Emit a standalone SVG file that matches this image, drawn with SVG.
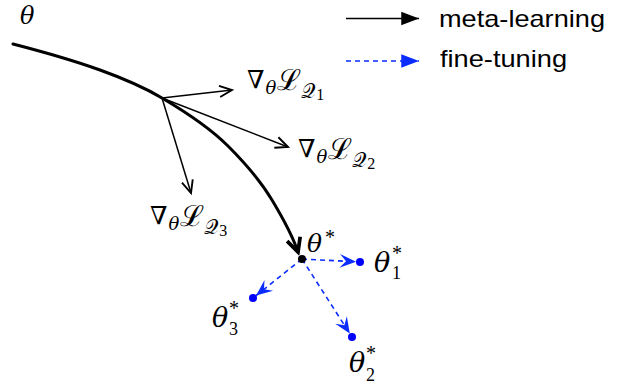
<svg xmlns="http://www.w3.org/2000/svg" width="624" height="385" viewBox="0 0 624 385">
<style>
.thick{fill:none;stroke:#000;stroke-width:3;stroke-linecap:round}
.thin{fill:none;stroke:#000;stroke-width:1.5}
.dash{fill:none;stroke:#0a2cff;stroke-width:1.6;stroke-dasharray:5,4}
.leg{font-family:"Liberation Sans",Arial,sans-serif;font-size:24px;fill:#000}
.m{font-family:"Liberation Serif","DejaVu Serif",serif;fill:#000}
.th{font-family:"DejaVu Serif",serif;font-style:italic;fill:#000}
.dot{fill:#0000ff}
</style>
<defs>
<marker id="openB" markerUnits="userSpaceOnUse" markerWidth="20" markerHeight="20" viewBox="-12 -8 14 16" refX="0" refY="0" orient="auto">
<path d="M-11,-5.5 L0,0 L-11,5.5" fill="none" stroke="#000" stroke-width="3" stroke-linejoin="miter"/>
</marker>
<marker id="openT" markerUnits="userSpaceOnUse" markerWidth="20" markerHeight="20" viewBox="-12 -8 14 16" refX="0" refY="0" orient="auto">
<path d="M-10,-4.5 L0,0 L-10,4.5" fill="none" stroke="#000" stroke-width="1.5"/>
</marker>
<marker id="stealth" markerUnits="userSpaceOnUse" markerWidth="20" markerHeight="20" viewBox="-14 -8 16 16" refX="0" refY="0" orient="auto">
<path d="M0,0 L-13,-5.5 L-8,0 L-13,5.5 Z" fill="#0a2cff"/>
</marker>
<marker id="triK" markerUnits="userSpaceOnUse" markerWidth="20" markerHeight="20" viewBox="-17 -7 18 14" refX="0" refY="0" orient="auto">
<path d="M0,0 L-16,-6 L-16,6 Z" fill="#000"/>
</marker>
<marker id="triB" markerUnits="userSpaceOnUse" markerWidth="20" markerHeight="20" viewBox="-17 -7 18 14" refX="0" refY="0" orient="auto">
<path d="M0,0 L-16,-6 L-16,6 Z" fill="#0a2cff"/>
</marker>
</defs>

<g id="connectors">
<path class="thick" marker-end="url(#openB)" d="M13,44 C40,51 75,61 100,70 C125,79 142,86 162,98 C184,111 210,128 228,146 C246,164 260,180 272,200 C284,220 293,237 298,252"/>
<line class="thin" marker-end="url(#openT)" x1="162" y1="98" x2="232" y2="90"/>
<line class="thin" marker-end="url(#openT)" x1="162" y1="98" x2="288" y2="147"/>
<line class="thin" marker-end="url(#openT)" x1="162" y1="98" x2="191" y2="193"/>
<line class="dash" marker-end="url(#stealth)" x1="302" y1="259" x2="356" y2="261.8"/>
<line class="dash" marker-end="url(#stealth)" x1="302" y1="259" x2="256.1" y2="295.5"/>
<line class="dash" marker-end="url(#stealth)" x1="302" y1="259" x2="349.8" y2="333.6"/>
</g>

<g id="theta0"><text class="th" x="20" y="24" font-size="24">θ</text></g>

<g id="grad1">
<text class="m" x="247" y="88" font-size="25">∇<tspan class="th" dx="1" dy="6" font-size="18">θ</tspan><tspan dx="1" dy="-4" font-size="29">ℒ</tspan><tspan dy="8" font-size="20">𝒬</tspan><tspan dx="1" dy="2" font-size="16">1</tspan></text>
</g>
<g id="grad2">
<text class="m" x="298" y="157" font-size="25">∇<tspan class="th" dx="1" dy="6" font-size="18">θ</tspan><tspan dx="1" dy="-4" font-size="29">ℒ</tspan><tspan dy="8" font-size="20">𝒬</tspan><tspan dx="1" dy="2" font-size="16">2</tspan></text>
</g>
<g id="grad3">
<text class="m" x="150" y="224" font-size="25">∇<tspan class="th" dx="1" dy="6" font-size="18">θ</tspan><tspan dx="1" dy="-4" font-size="29">ℒ</tspan><tspan dy="8" font-size="20">𝒬</tspan><tspan dx="1" dy="2" font-size="16">3</tspan></text>
</g>

<g id="thetastar">
<circle cx="302" cy="259" r="4" fill="#000"/>
<text class="th" x="307" y="252" font-size="25">θ</text>
<text class="m" x="325" y="244" font-size="20">*</text>
</g>
<g id="theta1">
<circle class="dot" cx="360" cy="262" r="4"/>
<text class="th" x="374" y="272" font-size="27">θ</text>
<text class="m" x="392" y="260" font-size="20">*</text>
<text class="m" x="392" y="279" font-size="18">1</text>
</g>
<g id="theta2">
<circle class="dot" cx="352" cy="337" r="4"/>
<text class="th" x="349" y="372" font-size="27">θ</text>
<text class="m" x="366" y="360" font-size="20">*</text>
<text class="m" x="366" y="381" font-size="18">2</text>
</g>
<g id="theta3">
<circle class="dot" cx="253" cy="298" r="4"/>
<text class="th" x="212" y="327" font-size="27">θ</text>
<text class="m" x="229" y="315" font-size="20">*</text>
<text class="m" x="229" y="335" font-size="18">3</text>
</g>

<g id="legend">
<line stroke="#000" stroke-width="1.6" marker-end="url(#triK)" x1="346" y1="18.5" x2="419" y2="18.5"/>
<text class="leg" x="439" y="26.5" textLength="166" lengthAdjust="spacingAndGlyphs">meta-learning</text>
<line class="dash" marker-end="url(#triB)" x1="346" y1="61" x2="419" y2="61"/>
<text class="leg" x="440" y="66.5" textLength="127" lengthAdjust="spacingAndGlyphs">fine-tuning</text>
</g>
</svg>
